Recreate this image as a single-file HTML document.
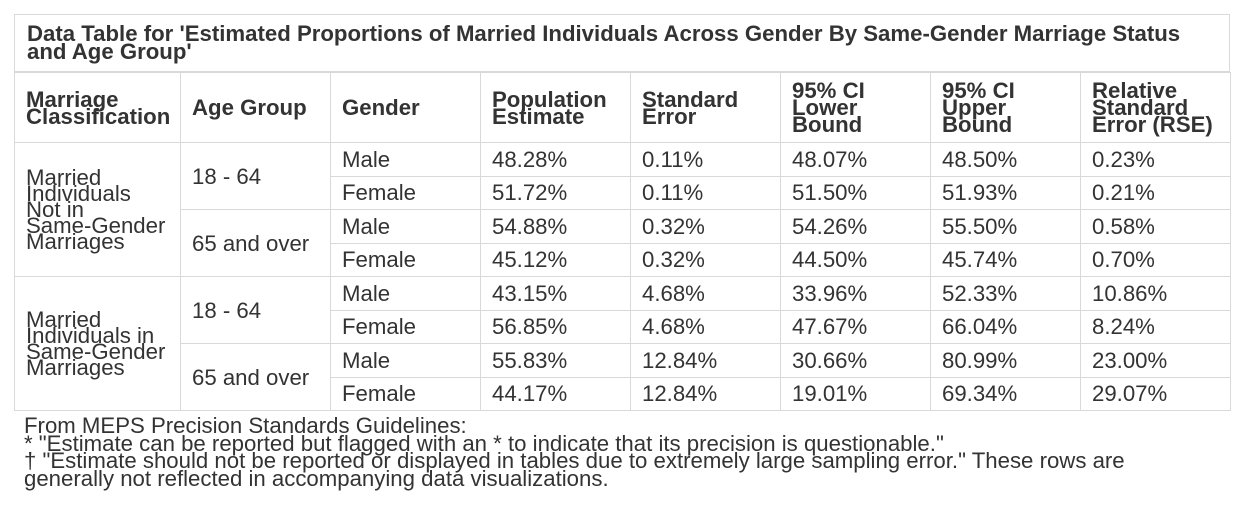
<!DOCTYPE html>
<html><head><meta charset="utf-8">
<style>
body{margin:0;width:1244px;height:519px;background:#fff;position:relative;overflow:hidden;font-family:"Liberation Sans",Arial,sans-serif;color:#333;}
.c{position:absolute;box-sizing:border-box;border:1px solid #d9d9d9;display:flex;align-items:center;padding-left:11px;font-size:22.2px;line-height:17px;}
.h{font-weight:bold;}
#title{position:absolute;left:14px;top:14px;width:1216px;height:59px;box-sizing:border-box;border:1px solid #d9d9d9;border-bottom:2px solid #d9d9d9;padding:10px 0 0 12px;font-weight:bold;font-size:22.2px;line-height:18px;}
#foot{position:absolute;left:24px;top:417px;font-size:22.2px;line-height:17.5px;}
</style></head><body>
<div id="title">Data Table for 'Estimated Proportions of Married Individuals Across Gender By Same-Gender Marriage Status<br>and Age Group'</div>
<div id="grid"></div>
<div id="foot">From MEPS Precision Standards Guidelines:<br>* "Estimate can be reported but flagged with an * to indicate that its precision is questionable."<br>† "Estimate should not be reported or displayed in tables due to extremely large sampling error." These rows are<br>generally not reflected in accompanying data visualizations.</div>
<script>
const cols=[14,180,330,480,630,780,930,1080,1230];
const headers=["Marriage<br>Classification","Age Group","Gender","Population<br>Estimate","Standard<br>Error","95% CI<br>Lower<br>Bound","95% CI<br>Upper<br>Bound","Relative<br>Standard<br>Error (RSE)"];
const classes=["Married<br>Individuals<br>Not in<br>Same-Gender<br>Marriages","Married<br>Individuals in<br>Same-Gender<br>Marriages"];
const ages=["18 - 64","65 and over"];
const genders=["Male","Female"];
const estimates=["48.28%","51.72%","54.88%","45.12%","43.15%","56.85%","55.83%","44.17%"];
const stdErrors=["0.11%","0.11%","0.32%","0.32%","4.68%","4.68%","12.84%","12.84%"];
const lowerBounds=["48.07%","51.50%","54.26%","44.50%","33.96%","47.67%","30.66%","19.01%"];
const upperBounds=["48.50%","51.93%","55.50%","45.74%","52.33%","66.04%","80.99%","69.34%"];
const rses=["0.23%","0.21%","0.58%","0.70%","10.86%","8.24%","23.00%","29.07%"];
const g=document.getElementById('grid');
const top0=142,rh=33.5;
function cell(ci,y,h,html,bold){
  const d=document.createElement('div');
  d.className='c'+(bold?' h':'');
  d.style.left=cols[ci]+'px';d.style.top=y+'px';
  d.style.width=(cols[ci+1]-cols[ci]+1)+'px';d.style.height=(h+1)+'px';
  d.innerHTML=html;g.appendChild(d);return d;
}
headers.forEach((t,i)=>{const d=cell(i,72,70,t,true);

});
for(let r=0;r<8;r++){
  const y=top0+r*rh;
  if(r%4==0){const d=cell(0,y,rh*4,classes[r/4],false);
  d.style.lineHeight='16px';
  
  }
  if(r%2==0){const d=cell(1,y,rh*2,ages[(r/2)%2],false);
  
  }
  const vals=[genders[r%2],estimates[r],stdErrors[r],lowerBounds[r],upperBounds[r],rses[r]];
  vals.forEach((v,k)=>{const d=cell(k+2,y,rh,v,false);
  
  });
}
</script>
</body></html>
